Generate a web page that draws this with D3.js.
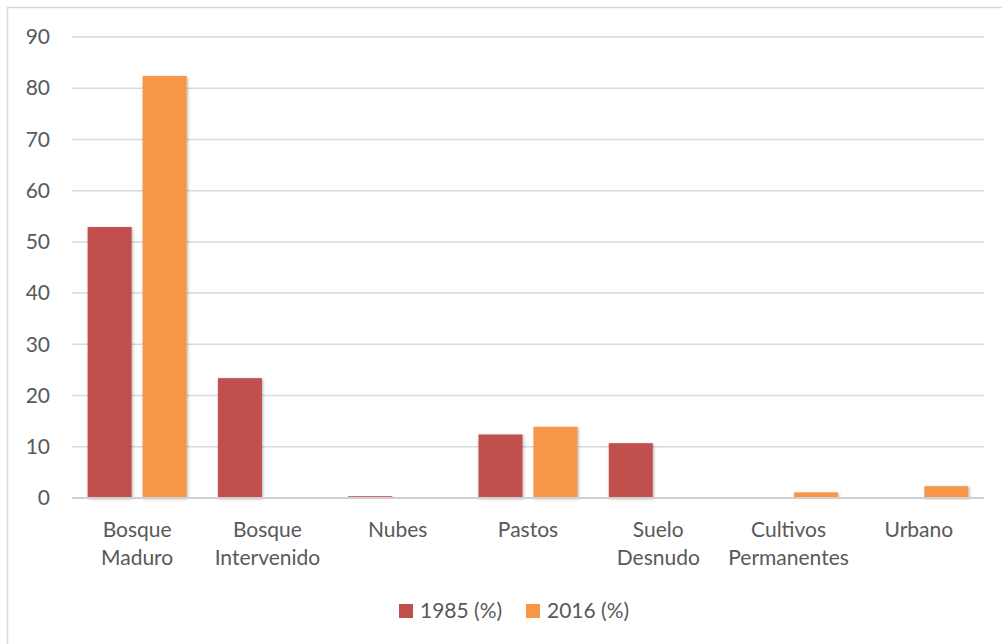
<!DOCTYPE html>
<html>
<head>
<meta charset="utf-8">
<script src="https://cdn.jsdelivr.net/npm/d3@7"></script>
<style>
  body { margin: 0; background: #fff; }
  text { font-family: Lato, "Open Sans", sans-serif; fill: #595959; }
</style>
</head>
<body>
<div id="chart"></div>
<script>
// Datos del gráfico
const categorias = [
  ['Bosque', 'Maduro'],
  ['Bosque', 'Intervenido'],
  ['Nubes'],
  ['Pastos'],
  ['Suelo', 'Desnudo'],
  ['Cultivos', 'Permanentes'],
  ['Urbano']
];
const series = ['1985 (%)', '2016 (%)'];
const valores1985 = [52.9, 23.4, 0.35, 12.4, 10.7, 0, 0];
const valores2016 = [82.4, 0, 0, 13.9, 0, 1.1, 2.3];
const ticksY = [0, 10, 20, 30, 40, 50, 60, 70, 80, 90];
const colores = ['#C0504D', '#F79646'];

const width = 1002, height = 644;
const margin = { top: 37, right: 18, bottom: 146, left: 72 };
const innerW = width - margin.left - margin.right;
const innerH = height - margin.top - margin.bottom;

const svg = d3.select('#chart').append('svg')
  .attr('width', width)
  .attr('height', height);

// sombra suave de las barras
const defs = svg.append('defs');
const f = defs.append('filter').attr('id', 'sombra')
  .attr('x', '-20%').attr('y', '-5%').attr('width', '140%').attr('height', '115%');
f.append('feDropShadow')
  .attr('dx', 1).attr('dy', 1).attr('stdDeviation', 1.5)
  .attr('flood-color', '#000').attr('flood-opacity', 0.3);

// borde del área del gráfico
svg.append('rect')
  .attr('x', 7.5).attr('y', 7.5)
  .attr('width', 1010).attr('height', 650)
  .attr('fill', 'none')
  .attr('stroke', '#d9d9d9')
  .attr('stroke-width', 1.5);

const g = svg.append('g')
  .attr('transform', `translate(${margin.left},${margin.top})`);

const x = d3.scaleBand()
  .domain(d3.range(categorias.length))
  .range([0, innerW])
  .paddingInner(0.24)
  .paddingOuter(0.12);

const x1 = d3.scaleBand()
  .domain(series)
  .range([0, x.bandwidth()])
  .paddingInner(0.2);

const y = d3.scaleLinear().domain([0, 90]).range([innerH, 0]);

// líneas de cuadrícula
g.append('g')
  .selectAll('line')
  .data(ticksY.filter(d => d > 0))
  .join('line')
  .attr('x1', 0).attr('x2', innerW)
  .attr('y1', d => y(d)).attr('y2', d => y(d))
  .attr('stroke', '#d9d9d9')
  .attr('stroke-width', 1.5);

// eje Y
const yAxis = d3.axisLeft(y).tickValues(ticksY).tickSize(0).tickPadding(22);
g.append('g')
  .call(yAxis)
  .call(s => s.select('.domain').remove())
  .selectAll('text')
  .attr('font-size', 21)
  .style('font-family', 'Lato, "Open Sans", sans-serif')
  .attr('fill', '#595959');

// barras
const datos = categorias.map((c, i) => ({ i, valores: [valores1985[i], valores2016[i]] }));

const grupos = g.selectAll('.grupo')
  .data(datos)
  .join('g')
  .attr('class', 'grupo')
  .attr('transform', d => `translate(${x(d.i)},0)`);

grupos.selectAll('rect')
  .data(d => d.valores.map((v, k) => ({ serie: series[k], v, k })).filter(b => b.v > 0))
  .join('rect')
  .attr('x', b => x1(b.serie))
  .attr('width', x1.bandwidth())
  .attr('y', b => y(b.v))
  .attr('height', b => y(0) - y(b.v))
  .attr('fill', b => colores[b.k])
  .attr('filter', 'url(#sombra)');

// línea base
g.append('line')
  .attr('x1', 0).attr('x2', innerW)
  .attr('y1', y(0)).attr('y2', y(0))
  .attr('stroke', '#d0d0d0')
  .attr('stroke-width', 2);

// etiquetas de categoría
const etiquetas = g.append('g')
  .selectAll('text')
  .data(categorias)
  .join('text')
  .attr('text-anchor', 'middle')
  .attr('font-size', 21)
  .attr('transform', (d, i) => `translate(${x(i) + x.bandwidth() / 2},${innerH + 39})`);

etiquetas.selectAll('tspan')
  .data(d => d)
  .join('tspan')
  .attr('x', 0)
  .attr('dy', (d, j) => j === 0 ? 0 : 28)
  .text(d => d);

// leyenda
const leyenda = svg.append('g').attr('transform', 'translate(399,604)');
const itemX = [0, 127];
series.forEach((s, k) => {
  const it = leyenda.append('g').attr('transform', `translate(${itemX[k]},0)`);
  it.append('rect')
    .attr('width', 14).attr('height', 14)
    .attr('fill', colores[k]);
  it.append('text')
    .attr('x', 21).attr('y', 14)
    .attr('font-size', 21)
    .text(s);
});
</script>
</body>
</html>
